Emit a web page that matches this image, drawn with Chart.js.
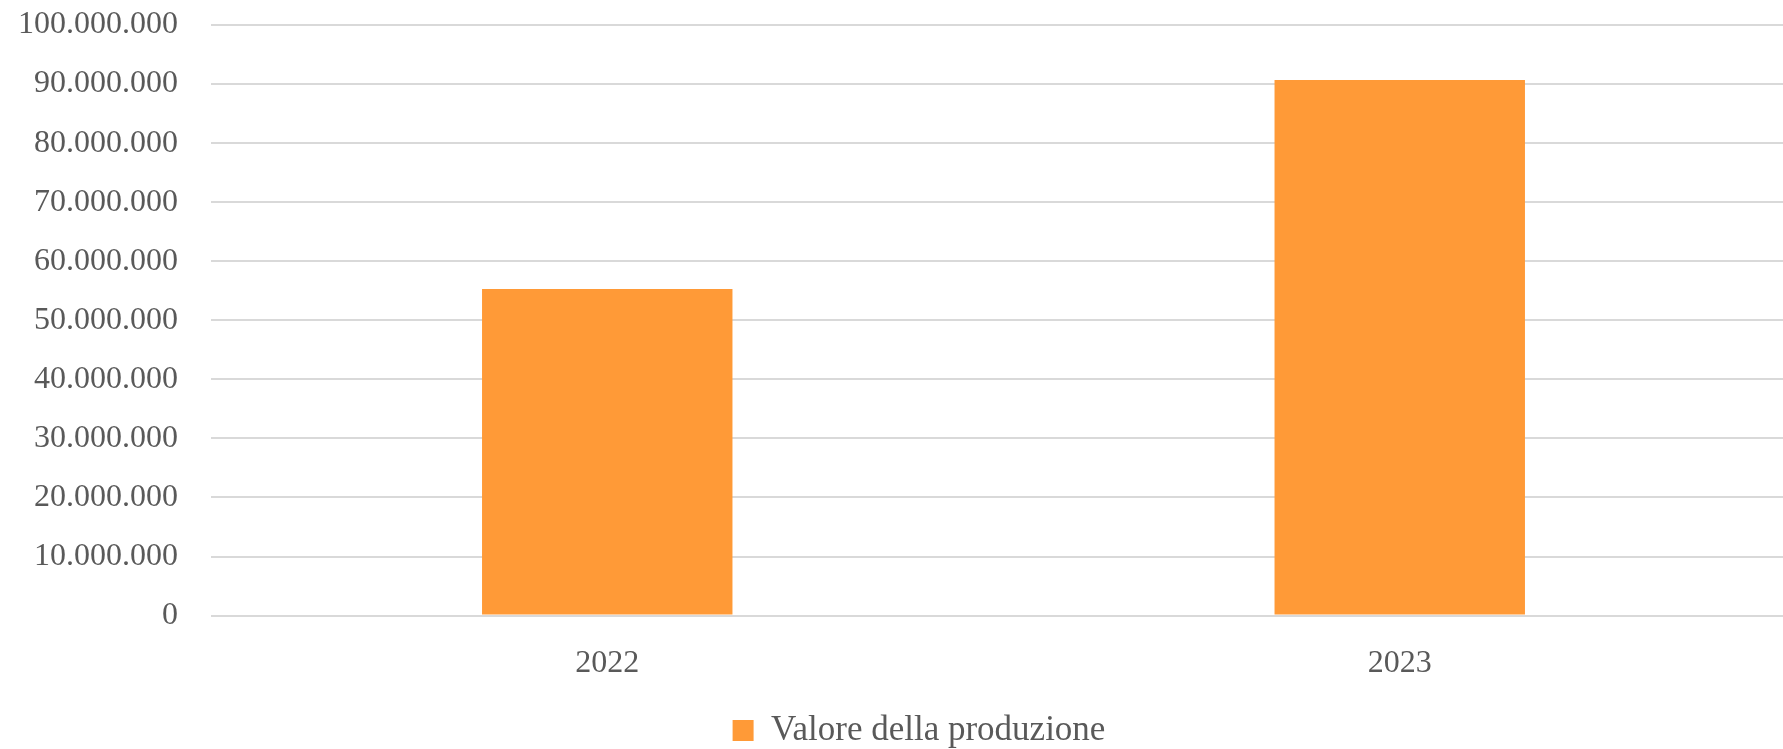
<!DOCTYPE html>
<html>
<head>
<meta charset="utf-8">
<script src="https://cdn.jsdelivr.net/npm/chart.js@4/dist/chart.umd.min.js"></script>
<style>
  html, body { margin: 0; padding: 0; background: #ffffff; overflow: hidden; }
  #wrap { width: 1796px; height: 749px; }
</style>
</head>
<body>
<div id="wrap"><canvas id="myChart" width="1796" height="749"></canvas></div>
<script>
var years = ['2022', '2023'];
var valoreProduzione = [55300000, 90700000];
var seriesLabel = 'Valore della produzione';

function formatIt(v) {
  return String(Math.round(v)).replace(/\B(?=(\d{3})+(?!\d))/g, '.');
}

var textColor = '#595959';
var fontFamily = '"Liberation Serif", "DejaVu Serif", serif';

// nudge the legend a bit lower and to the right, like the original
var legendNudge = {
  id: 'legendNudge',
  afterLayout: function (chart) {
    var lg = chart.legend;
    if (!lg) return;
    lg.top += 9; lg.bottom += 9;
    lg.left += 11; lg.right += 11;
  }
};

var ctx = document.getElementById('myChart').getContext('2d');
var myChart = new Chart(ctx, {
  type: 'bar',
  data: {
    labels: years,
    datasets: [{
      label: seriesLabel,
      data: valoreProduzione,
      backgroundColor: '#FF9A37',
      borderWidth: 0,
      categoryPercentage: 1,
      barPercentage: 0.316
    }]
  },
  options: {
    responsive: false,
    animation: false,
    layout: {
      padding: { left: 20, right: 0, top: 0, bottom: 0 }
    },
    scales: {
      x: {
        grid: { display: false },
        border: { display: false },
        ticks: {
          color: textColor,
          font: { family: fontFamily, size: 32 },
          padding: 21
        }
      },
      y: {
        min: 0,
        max: 100000000,
        grid: { color: '#d9d9d9', lineWidth: 2, drawTicks: false },
        border: { display: false },
        afterFit: function (scale) {
          scale.width = 191;
          scale.paddingTop = 25;
          scale.paddingBottom = 0;
        },
        ticks: {
          stepSize: 10000000,
          color: textColor,
          font: { family: fontFamily, size: 32 },
          padding: 33,
          callback: function (v) { return formatIt(v); }
        }
      }
    },
    plugins: {
      legend: {
        position: 'bottom',
        labels: {
          color: textColor,
          font: { family: fontFamily, size: 35 },
          boxWidth: 21,
          boxHeight: 21,
          padding: 0
        }
      },
      tooltip: { enabled: false }
    }
  },
  plugins: [legendNudge]
});
</script>
</body>
</html>
